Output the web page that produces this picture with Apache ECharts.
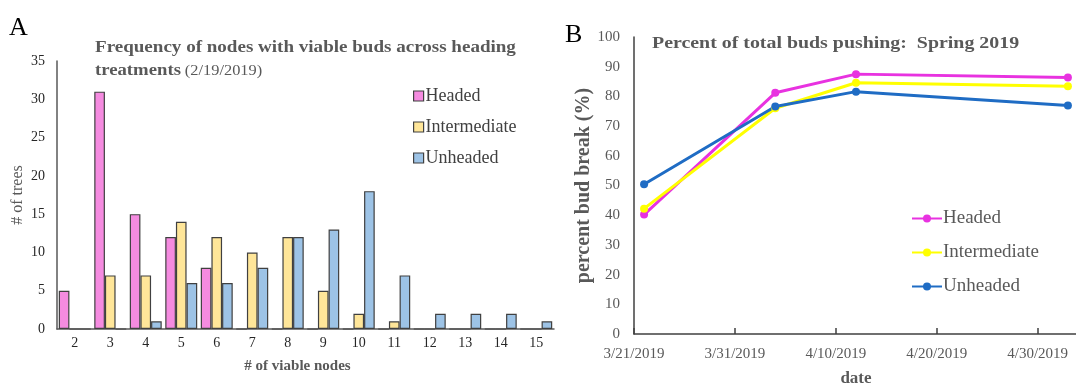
<!DOCTYPE html>
<html>
<head>
<meta charset="utf-8">
<script src="https://cdn.jsdelivr.net/npm/echarts@6/dist/echarts.min.js"></script>
<style>html,body{margin:0;padding:0;background:#fff}#c{width:1076px;height:385px}</style>
</head>
<body>
<div id="c"></div>
<script>
// ---- Chart A data ----
const nodeCategories = ['2','3','4','5','6','7','8','9','10','11','12','13','14','15'];
const headedCounts       = [5, 31, 15, 12, 8, 0, 0, 0, 0, 0, 0, 0, 0, 0];
const intermediateCounts = [0, 7, 7, 14, 12, 10, 12, 5, 2, 1, 0, 0, 0, 0];
const unheadedCounts     = [0, 0, 1, 6, 6, 8, 12, 13, 18, 7, 2, 2, 2, 1];

// ---- Chart B data ----
const dateOrigin = '3/21/2019';
const sampleDates = ['3/22/2019', '4/4/2019', '4/12/2019', '5/3/2019'];
const headedPct       = [40.2, 81.2, 87.5, 86.4];
const intermediatePct = [42.2, 76.0, 84.6, 83.4];
const unheadedPct     = [50.4, 76.6, 81.6, 76.9];
const dateTickLabels = ['3/21/2019', '3/31/2019', '4/10/2019', '4/20/2019', '4/30/2019'];

function dayNum(s) {
  const p = s.split('/').map(Number);
  return Date.UTC(p[2], p[0] - 1, p[1]) / 86400000;
}
const origin = dayNum(dateOrigin);
function pairs(vals) { return sampleDates.map((d, i) => [dayNum(d) - origin, vals[i]]); }

const serif = 'Liberation Serif';
const chart = echarts.init(document.getElementById('c'), null, {renderer: 'canvas'});

const barBase = {type: 'bar', xAxisIndex: 0, yAxisIndex: 0, barGap: '0%', barCategoryGap: '10%'};
const lineBase = {type: 'line', xAxisIndex: 1, yAxisIndex: 1, symbol: 'circle', symbolSize: 8};

chart.setOption({
  animation: false,
  backgroundColor: '#ffffff',
  textStyle: {fontFamily: serif},
  graphic: [
    {type: 'text', left: 9, top: 15, style: {text: 'A', font: '26px "Liberation Serif"', fill: '#000'}},
    {type: 'text', left: 565, top: 22, style: {text: 'B', font: '26px "Liberation Serif"', fill: '#000'}},
    {type: 'text', x: 95, y: 40, scaleX: 1.19, style: {text: 'Frequency of nodes with viable buds across heading', font: 'bold 16px "Liberation Serif"', fill: '#595959'}},
    {type: 'text', x: 95, y: 63, scaleX: 1.17, style: {
      text: '{b|treatments} {n|(2/19/2019)}',
      fill: '#595959',
      rich: {
        b: {fontFamily: serif, fontWeight: 'bold', fontSize: 16, fill: '#595959'},
        n: {fontFamily: serif, fontSize: 14, fill: '#595959'}
      }
    }},
    {type: 'text', x: 652, y: 35, scaleX: 1.17, style: {text: 'Percent of total buds pushing:  Spring 2019', font: 'bold 17px "Liberation Serif"', fill: '#595959'}}
  ],
  legend: [
    {
      data: ['Headed', 'Intermediate', 'Unheaded'].map(n => ({name: n})),
      orient: 'vertical', left: 408, top: 82, itemGap: 13, itemWidth: 10, itemHeight: 10,
      icon: 'rect',
      itemStyle: {borderColor: '#404040', borderWidth: 1.2},
      textStyle: {fontFamily: serif, fontSize: 18, color: '#404040', padding: [0, 0, 0, -3]}
    },
    {
      data: ['Headed ', 'Intermediate ', 'Unheaded '],
      orient: 'vertical', left: 906, top: 204, itemGap: 15, itemWidth: 30, itemHeight: 10,
      textStyle: {fontFamily: serif, fontSize: 19, color: '#595959', padding: [0, 0, 0, -4]}
    }
  ],
  grid: [
    {left: 57, top: 61, width: 497, height: 268, outerBoundsMode: 'none', containLabel: false},
    {left: 634, top: 37, width: 444, height: 297, outerBoundsMode: 'none', containLabel: false}
  ],
  xAxis: [
    {
      gridIndex: 0, type: 'category', data: nodeCategories,
      axisLine: {lineStyle: {color: '#595959', width: 1.5}},
      axisTick: {show: false},
      axisLabel: {fontFamily: serif, fontSize: 14, color: '#262626', margin: 7},
      name: '# of viable nodes', nameLocation: 'middle', nameGap: 30,
      nameTextStyle: {fontFamily: serif, fontSize: 15, fontWeight: 'bold', color: '#595959', padding: [0, 16, 0, 0]}
    },
    {
      gridIndex: 1, type: 'value', min: 0, max: 44, interval: 10,
      axisLine: {lineStyle: {color: '#404040', width: 1.5}},
      axisTick: {show: true, inside: true, length: 6, lineStyle: {color: '#404040', width: 1.5}},
      splitLine: {show: false},
      axisLabel: {
        fontFamily: serif, fontSize: 15, color: '#595959', margin: 13, showMaxLabel: false,
        formatter: v => (v % 10 === 0 && dateTickLabels[v / 10]) ? dateTickLabels[v / 10] : ''
      },
      name: 'date', nameLocation: 'middle', nameGap: 36,
      nameTextStyle: {fontFamily: serif, fontSize: 17, fontWeight: 'bold', color: '#595959'}
    }
  ],
  yAxis: [
    {
      gridIndex: 0, type: 'value', min: 0, max: 35, interval: 5,
      axisLine: {show: true, lineStyle: {color: '#595959', width: 1.5}},
      axisTick: {show: false},
      splitLine: {show: false},
      axisLabel: {fontFamily: serif, fontSize: 14, color: '#262626', margin: 12},
      name: '# of trees', nameLocation: 'middle', nameGap: 31,
      nameTextStyle: {fontFamily: serif, fontSize: 16, color: '#595959'}
    },
    {
      gridIndex: 1, type: 'value', min: 0, max: 100, interval: 10,
      axisLine: {show: true, lineStyle: {color: '#404040', width: 1.5}},
      axisTick: {show: false},
      splitLine: {show: false},
      axisLabel: {fontFamily: serif, fontSize: 15, color: '#595959', margin: 14},
      name: 'percent bud break (%)', nameLocation: 'middle', nameGap: 38,
      nameTextStyle: {fontFamily: serif, fontSize: 20, fontWeight: 'bold', color: '#595959'}
    }
  ],
  series: [
    Object.assign({}, barBase, {name: 'Headed', data: headedCounts, itemStyle: {color: '#F58BE0', borderColor: '#404040', borderWidth: 1.2}}),
    Object.assign({}, barBase, {name: 'Intermediate', data: intermediateCounts, itemStyle: {color: '#FFE699', borderColor: '#404040', borderWidth: 1.2}}),
    Object.assign({}, barBase, {name: 'Unheaded', data: unheadedCounts, itemStyle: {color: '#9DC3E6', borderColor: '#404040', borderWidth: 1.2}}),
    Object.assign({}, lineBase, {name: 'Headed ', data: pairs(headedPct), itemStyle: {color: '#E832E0'}, lineStyle: {width: 3, color: '#E832E0'}}),
    Object.assign({}, lineBase, {name: 'Intermediate ', data: pairs(intermediatePct), itemStyle: {color: '#FFFF00'}, lineStyle: {width: 3, color: '#FFFF00'}}),
    Object.assign({}, lineBase, {name: 'Unheaded ', data: pairs(unheadedPct), itemStyle: {color: '#1F6CC4'}, lineStyle: {width: 3, color: '#1F6CC4'}})
  ]
});
</script>
</body>
</html>
